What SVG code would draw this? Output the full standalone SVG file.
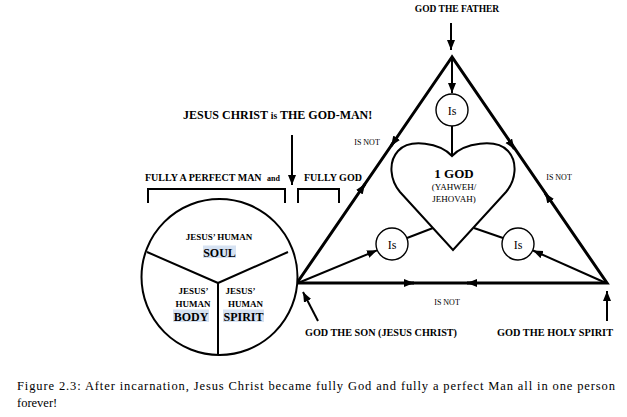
<svg xmlns="http://www.w3.org/2000/svg" width="627" height="417" viewBox="0 0 627 417">
<defs>
<style>
text{font-family:"Liberation Serif","Times New Roman",serif;fill:#000}
.b{font-weight:bold}
.lbl{font-size:9.5px;font-weight:bold;text-anchor:middle}
.isnot{font-size:8px;text-anchor:middle}
.thin{fill:none;stroke:#000;stroke-width:2}
.edge{fill:none;stroke:#000;stroke-width:3}
.circ{fill:#fff;stroke:#000;stroke-width:1.4}
.hl{fill:#d6e2f2}
</style>
<marker id="ah" markerUnits="userSpaceOnUse" markerWidth="12" markerHeight="10" refX="10" refY="4" orient="auto">
<path d="M0,0 L10,4 L0,8 Z" fill="#000"/>
</marker>
</defs>
<rect width="627" height="417" fill="#fff"/>

<g id="connectors">
<!-- triangle -->
<path class="edge" d="M452,57 L297,283 L607,283 Z" stroke-linejoin="miter"/>
<!-- mid-edge arrowheads -->
<path class="edge" d="M393.8,141.9 L391,146" marker-end="url(#ah)"/>
<path class="edge" d="M362.2,188.1 L365,184" marker-end="url(#ah)"/>
<path class="edge" d="M511.6,144.9 L514.4,149" marker-end="url(#ah)"/>
<path class="edge" d="M547.8,197.1 L545,193" marker-end="url(#ah)"/>
<path class="edge" d="M408,283 L414,283" marker-end="url(#ah)"/>
<path class="edge" d="M473,283 L467,283" marker-end="url(#ah)"/>
<!-- father arrow -->
<path class="thin" d="M451,23 L451,50" marker-end="url(#ah)"/>
<!-- apex to Is -->
<path class="thin" d="M452,57 L452,93" marker-end="url(#ah)"/>
<path class="thin" d="M452,126 L452,156"/>
<!-- vertices to lower Is -->
<path class="thin" d="M298,283 L377,250.3" marker-end="url(#ah)"/>
<path class="thin" d="M606,283 L533,250.5" marker-end="url(#ah)"/>
<!-- heart to lower Is -->
<path class="thin" d="M433,228 L407,238"/>
<path class="thin" d="M474,228 L503,238"/>
<!-- bottom label arrows -->
<path class="thin" d="M318,321 L303,292" marker-end="url(#ah)"/>
<path class="thin" d="M607,321 L607,291" marker-end="url(#ah)"/>
<!-- God-man arrow -->
<path class="thin" d="M292,135 L292,185" marker-end="url(#ah)"/>
<!-- brackets -->
<path class="thin" stroke-width="1.5" d="M148,203 L148,189 L285,189 L285,203"/>
<path class="thin" stroke-width="1.5" d="M298,203 L298,189 L339,189 L339,203"/>
</g>

<g id="father"><text class="lbl" x="457" y="11.5" font-size="10">GOD THE FATHER</text></g>

<g id="is-top">
<circle class="circ" cx="452" cy="110" r="16"/>
<text x="452" y="115" font-size="12" text-anchor="middle">Is</text>
</g>

<g id="heart">
<path d="M452,156 C440,143 410,138 398,151 C388,162 390,180 400,192 L453,250 L506,192 C516,180 518,162 508,151 C496,138 464,143 452,156 Z" fill="#fff" stroke="#000" stroke-width="2"/>
<text class="b" x="454" y="178" font-size="13" text-anchor="middle">1 GOD</text>
<text x="454" y="189.5" font-size="9" text-anchor="middle">(YAHWEH/</text>
<text x="454" y="201.5" font-size="9" text-anchor="middle">JEHOVAH)</text>
</g>

<g id="is-left">
<circle class="circ" cx="392" cy="244" r="16"/>
<text x="392" y="249" font-size="12" text-anchor="middle">Is</text>
</g>
<g id="is-right">
<circle class="circ" cx="518" cy="244" r="16"/>
<text x="518" y="249" font-size="12" text-anchor="middle">Is</text>
</g>

<g id="isnot-labels">
<text class="isnot" x="367" y="145">IS NOT</text>
<text class="isnot" x="559" y="180">IS NOT</text>
<text class="isnot" x="447" y="305">IS NOT</text>
</g>

<g id="son"><text class="lbl" x="381" y="336" textLength="152" lengthAdjust="spacingAndGlyphs">GOD THE SON (JESUS CHRIST)</text></g>
<g id="spirit"><text class="lbl" x="555" y="336" textLength="116" lengthAdjust="spacingAndGlyphs">GOD THE HOLY SPIRIT</text></g>

<g id="godman">
<text class="b" x="183" y="118.5" font-size="12">JESUS CHRIST <tspan font-size="9.5">is</tspan> THE GOD-MAN!</text>
</g>
<g id="fully">
<text class="b" x="145" y="181" font-size="10">FULLY A PERFECT MAN  <tspan font-size="8" dx="3">and</tspan></text>
<text class="b" x="304" y="181" font-size="10">FULLY GOD</text>
</g>

<g id="jesus-circle">
<circle cx="219.5" cy="277" r="78" fill="#fff" stroke="#000" stroke-width="2"/>
<path class="thin" d="M218,283 L147,252 M218,283 L288,252 M218,283 L218,355"/>
<rect class="hl" x="203" y="245.5" width="33" height="12.5"/>
<rect class="hl" x="173" y="309.5" width="36" height="12.5"/>
<rect class="hl" x="223" y="309.5" width="41" height="12.5"/>
<text class="b" x="219" y="239.5" font-size="9" text-anchor="middle">JESUS’ HUMAN</text>
<text class="b" x="219.5" y="256.5" font-size="12" text-anchor="middle">SOUL</text>
<text class="b" x="193.5" y="293.5" font-size="9" text-anchor="middle">JESUS’</text>
<text class="b" x="193" y="306.5" font-size="9" text-anchor="middle">HUMAN</text>
<text class="b" x="191" y="320.5" font-size="12" text-anchor="middle">BODY</text>
<text class="b" x="240.5" y="293.5" font-size="9" text-anchor="middle">JESUS’</text>
<text class="b" x="245.5" y="306.5" font-size="9" text-anchor="middle">HUMAN</text>
<text class="b" x="243.5" y="320.5" font-size="12" text-anchor="middle">SPIRIT</text>
</g>

<g id="caption">
<text x="17" y="390" font-size="12.5" textLength="598" lengthAdjust="spacing">Figure 2.3: After incarnation, Jesus Christ became fully God and fully a perfect Man all in one person</text>
<text x="17" y="407" font-size="12.5">forever!</text>
</g>
</svg>
